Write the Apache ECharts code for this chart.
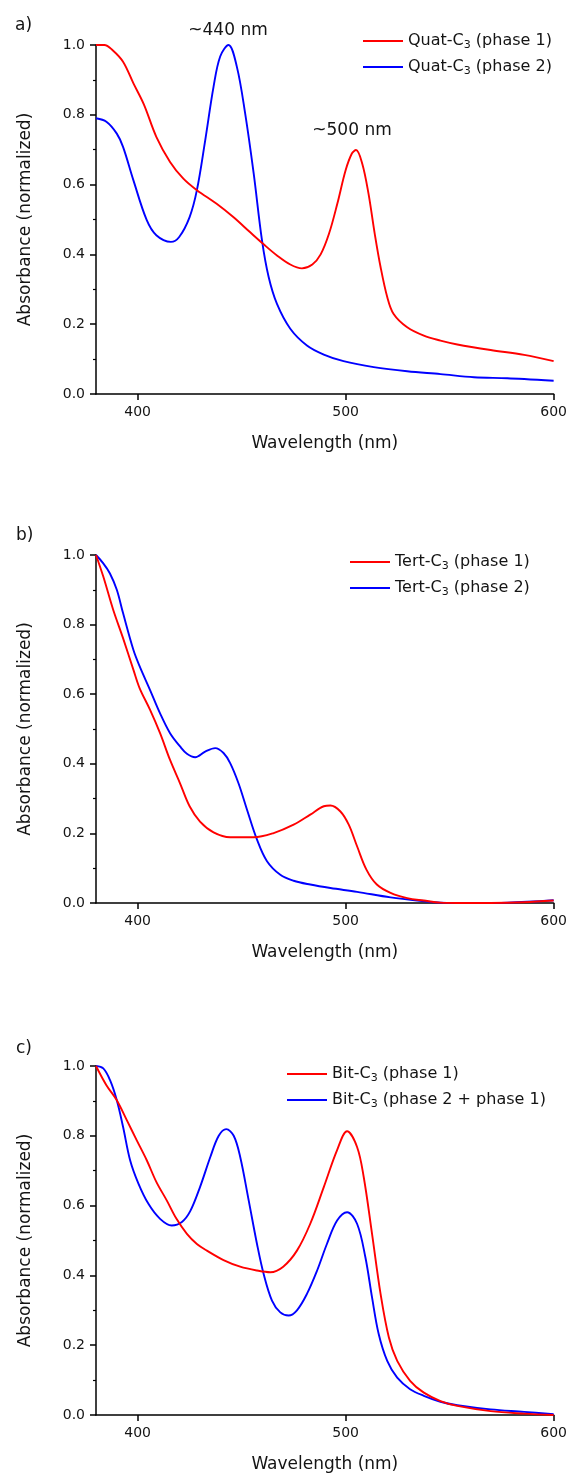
<!DOCTYPE html>
<html>
<head>
<meta charset="utf-8">
<script src="https://cdn.jsdelivr.net/npm/echarts@6/dist/echarts.min.js"></script>
<style>
html,body{margin:0;padding:0;background:#fff;}
#chart{width:570px;height:1477px;}
</style>
</head>
<body>
<div id="chart"></div>
<script>
// ---- data (wavelength nm, normalized absorbance) ----
const quatPhase1 = [[380,1.0],[384,1.0],[388,0.985],[393,0.952],[398,0.89],[403,0.83],[409,0.737],[415.6,0.665],[422,0.617],[428.5,0.584],[438,0.545],[446,0.507],[454,0.464],[460.6,0.429],[467,0.397],[473.4,0.371],[479,0.36],[484,0.371],[488,0.40],[492,0.459],[496,0.545],[500,0.641],[503,0.689],[505,0.699],[508,0.66],[511,0.574],[514,0.459],[516.8,0.364],[520,0.278],[523,0.23],[529.6,0.191],[537.6,0.167],[545.6,0.153],[553.7,0.142],[569.7,0.126],[585.8,0.112],[600,0.094]];
const quatPhase2 = [[380,0.79],[385,0.78],[390,0.746],[393,0.708],[398,0.612],[404.4,0.498],[409,0.455],[416,0.436],[420,0.45],[425,0.507],[428.5,0.584],[432.5,0.727],[436.5,0.88],[439.7,0.967],[443.7,1.0],[447.7,0.938],[451.7,0.804],[455.8,0.632],[459.8,0.44],[463,0.335],[467,0.258],[473.4,0.187],[481.4,0.139],[489.5,0.113],[499,0.094],[513.5,0.077],[529.6,0.065],[545.6,0.057],[561.7,0.048],[577.8,0.045],[600,0.038]];
const tertPhase1 = [[380,1.0],[383.5,0.938],[388.3,0.842],[393,0.761],[398,0.67],[401,0.617],[406,0.555],[410.8,0.488],[415.6,0.411],[420.4,0.344],[425,0.278],[430,0.234],[436.5,0.203],[444.5,0.189],[455.8,0.189],[465.4,0.201],[475,0.225],[483,0.254],[489.5,0.278],[492.7,0.28],[497.5,0.263],[501.5,0.225],[505.5,0.163],[510,0.096],[515,0.053],[521.6,0.029],[529.6,0.014],[537.6,0.007],[545.6,0.001],[553.7,0.0],[569.7,0.0],[585.8,0.002],[600,0.007]];
const tertPhase2 = [[380,1.0],[383.5,0.976],[386.7,0.947],[390,0.9],[393,0.833],[398,0.727],[401,0.68],[406,0.612],[410.8,0.545],[415.6,0.488],[420.4,0.45],[423.7,0.429],[427.7,0.419],[432.5,0.435],[437.3,0.445],[441.3,0.431],[444.5,0.402],[448.5,0.344],[452.6,0.268],[457.4,0.182],[462.2,0.12],[468.6,0.081],[475,0.064],[483,0.053],[492.7,0.043],[505.5,0.032],[521.6,0.016],[537.6,0.005],[545.6,0.001],[561.7,0.0],[577.8,0.001],[600,0.008]];
const bitPhase1 = [[380,1.0],[385,0.945],[390,0.902],[394.8,0.845],[399.6,0.787],[404.4,0.73],[409,0.668],[414,0.615],[418.7,0.562],[423.7,0.519],[428.5,0.49],[433.3,0.471],[441.3,0.444],[449.3,0.425],[457.4,0.414],[463.8,0.409],[470,0.425],[476.6,0.471],[483,0.548],[489.5,0.653],[495.9,0.759],[500.7,0.813],[505.5,0.768],[508.7,0.682],[512.7,0.519],[516.8,0.347],[520.8,0.222],[524.8,0.155],[531,0.098],[537.6,0.064],[545.6,0.04],[553.7,0.026],[569.7,0.011],[585.8,0.004],[600,0.0]];
const bitPhase21 = [[380,1.0],[383.5,0.993],[386.7,0.96],[390,0.902],[393,0.826],[396.4,0.73],[400.4,0.663],[405.2,0.605],[410.8,0.562],[416.4,0.543],[421.3,0.553],[425.3,0.584],[430,0.653],[435,0.74],[439,0.8],[442.6,0.819],[446.2,0.8],[449.3,0.74],[453.4,0.615],[457.4,0.49],[460.6,0.404],[464.6,0.328],[468.6,0.294],[472.6,0.285],[476.6,0.3],[481.4,0.347],[486.3,0.414],[491,0.49],[495.9,0.557],[500.7,0.581],[505.5,0.548],[509.5,0.452],[512.7,0.337],[515.9,0.232],[520,0.155],[524.8,0.107],[531,0.074],[537.6,0.055],[545.6,0.038],[553.7,0.028],[569.7,0.016],[585.8,0.009],[600,0.002]];

const seriesNames = [
  ['Quat-C3 (phase 1)', 'Quat-C3 (phase 2)'],
  ['Tert-C3 (phase 1)', 'Tert-C3 (phase 2)'],
  ['Bit-C3 (phase 1)', 'Bit-C3 (phase 2 + phase 1)']
];
const seriesData = [[quatPhase1, quatPhase2],[tertPhase1, tertPhase2],[bitPhase1, bitPhase21]];
const xTickValues = [400, 500, 600];

// ---- layout ----
const FONT = 'DejaVu Sans';
const TXT = '#141414';
const grids = [
  {left: 96, width: 458, top: 45, height: 349},
  {left: 96, width: 458, top: 555, height: 348},
  {left: 96, width: 458, top: 1066, height: 349}
];
const legendPos = [
  {left: 363, top: 31},
  {left: 350, top: 552},
  {left: 287, top: 1064}
];
const colors = ['#ff0000', '#0000ff'];

const option = {
  animation: false,
  backgroundColor: '#ffffff',
  grid: grids.map(g => Object.assign({containLabel: false}, g)),
  xAxis: grids.map((g, i) => ({
    type: 'value', gridIndex: i, min: 380, max: 600,
    name: 'Wavelength (nm)', nameLocation: 'middle', nameGap: 41,
    nameTextStyle: {fontFamily: FONT, fontSize: 17, color: TXT},
    axisLine: {show: true, lineStyle: {color: '#000', width: 1.5}},
    axisTick: {show: true, length: 6, lineStyle: {color: '#000', width: 1.5}, customValues: xTickValues},
    axisLabel: {fontFamily: FONT, fontSize: 14, color: TXT, margin: 11, customValues: xTickValues},
    splitLine: {show: false}
  })),
  yAxis: grids.map((g, i) => ({
    type: 'value', gridIndex: i, min: 0, max: 1, interval: 0.2,
    name: 'Absorbance (normalized)', nameLocation: 'middle', nameGap: 62, nameRotate: 90,
    nameTextStyle: {fontFamily: FONT, fontSize: 17, color: TXT},
    axisLine: {show: true, lineStyle: {color: '#000', width: 1.5}},
    axisTick: {show: true, length: 6, lineStyle: {color: '#000', width: 1.5}},
    minorTick: {show: true, splitNumber: 2, length: 3, lineStyle: {color: '#000', width: 1.2}},
    axisLabel: {fontFamily: FONT, fontSize: 14, color: TXT, margin: 11, formatter: v => v.toFixed(1)},
    splitLine: {show: false}
  })),
  legend: grids.map((g, i) => Object.assign({
    orient: 'vertical', itemWidth: 40, itemHeight: 14, itemGap: 6,
    selectedMode: false, padding: 0,
    data: seriesNames[i].map(n => ({name: n, icon: 'path://M0,0L40,0L40,2L0,2Z'})),
    formatter: n => n.replace('C3', 'C{sub|3}'),
    textStyle: {
      fontFamily: FONT, fontSize: 16, color: TXT, lineHeight: 20,
      rich: {sub: {fontFamily: FONT, fontSize: 11, lineHeight: 12, verticalAlign: 'bottom', color: TXT}}
    }
  }, legendPos[i])),
  series: [],
  graphic: [
    {type: 'text', left: 15, top: 17, style: {text: 'a)', font: '17px "DejaVu Sans"', fill: TXT}},
    {type: 'text', left: 16, top: 527, style: {text: 'b)', font: '17px "DejaVu Sans"', fill: TXT}},
    {type: 'text', left: 16, top: 1040, style: {text: 'c)', font: '17px "DejaVu Sans"', fill: TXT}},
    {type: 'text', x: 228, y: 31, style: {text: '~440 nm', font: '17px "DejaVu Sans"', fill: TXT, align: 'center', verticalAlign: 'middle'}},
    {type: 'text', x: 352, y: 131, style: {text: '~500 nm', font: '17px "DejaVu Sans"', fill: TXT, align: 'center', verticalAlign: 'middle'}}
  ]
};

seriesData.forEach((pair, i) => {
  pair.forEach((data, j) => {
    option.series.push({
      type: 'line', name: seriesNames[i][j], xAxisIndex: i, yAxisIndex: i,
      data: data, showSymbol: false, symbol: 'none', smooth: 0.35, clip: false,
      lineStyle: {color: colors[j], width: 1.9}, itemStyle: {color: colors[j]},
      z: j === 0 ? 3 : 2
    });
  });
});

const chart = echarts.init(document.getElementById('chart'), null, {renderer: 'canvas'});
chart.setOption(option);
</script>
</body>
</html>
